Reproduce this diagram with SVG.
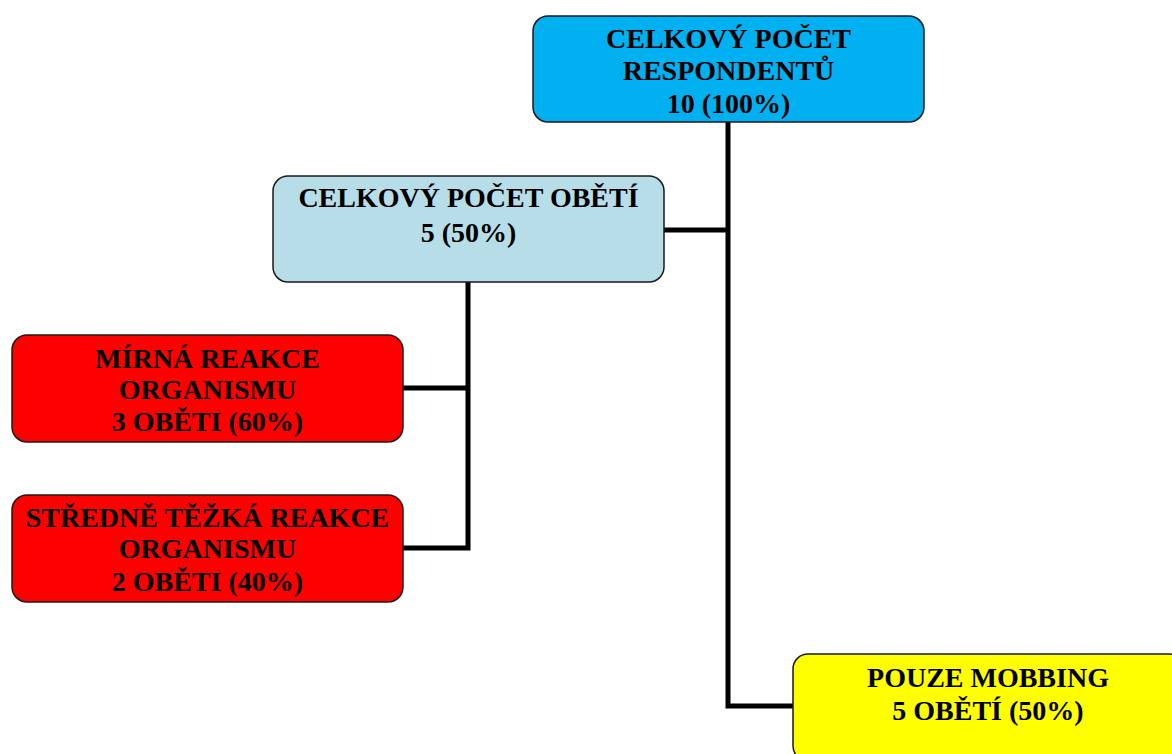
<svg xmlns="http://www.w3.org/2000/svg" width="1172" height="754" viewBox="0 0 1172 754">
<style>
.box{stroke:#1a1a1a;stroke-width:1.5}
.t{font-family:"Liberation Serif","Times New Roman",serif;font-weight:bold;font-size:28px;fill:#000;text-anchor:middle}
.c{fill:none;stroke:#000;stroke-width:5;stroke-linejoin:miter}
</style>
<rect width="1172" height="754" fill="#fff"/>
<g id="connectors">
<path class="c" d="M728,122 V706 H793"/>
<path class="c" d="M664,230 H728"/>
<path class="c" d="M468,282 V548 H403"/>
<path class="c" d="M403,388 H468"/>
</g>
<g id="n-total">
<rect class="box" x="533" y="16" width="391" height="106" rx="15" fill="#00B0F0"/>
<text class="t" x="728.5" y="48">CELKOVÝ POČET</text>
<text class="t" x="728.5" y="80">RESPONDENTŮ</text>
<text class="t" x="728.5" y="113">10 (100%)</text>
</g>
<g id="n-victims">
<rect class="box" x="273" y="176" width="391" height="106" rx="15" fill="#B7DEE8"/>
<text class="t" x="468.5" y="207">CELKOVÝ POČET OBĚTÍ</text>
<text class="t" x="468.5" y="242">5 (50%)</text>
</g>
<g id="n-mild">
<rect class="box" x="12" y="335" width="391" height="107" rx="15" fill="#FF0000"/>
<text class="t" x="207.5" y="368">MÍRNÁ REAKCE</text>
<text class="t" x="207.5" y="399">ORGANISMU</text>
<text class="t" x="207.5" y="431">3 OBĚTI (60%)</text>
</g>
<g id="n-medium">
<rect class="box" x="12" y="495" width="391" height="107" rx="15" fill="#FF0000"/>
<text class="t" x="207.5" y="527">STŘEDNĚ TĚŽKÁ REAKCE</text>
<text class="t" x="207.5" y="558">ORGANISMU</text>
<text class="t" x="207.5" y="591">2 OBĚTI (40%)</text>
</g>
<g id="n-mobbing">
<rect class="box" x="793" y="654" width="391" height="107" rx="15" fill="#FFFF00"/>
<text class="t" x="988" y="687">POUZE MOBBING</text>
<text class="t" x="988" y="720">5 OBĚTÍ (50%)</text>
</g>
</svg>
